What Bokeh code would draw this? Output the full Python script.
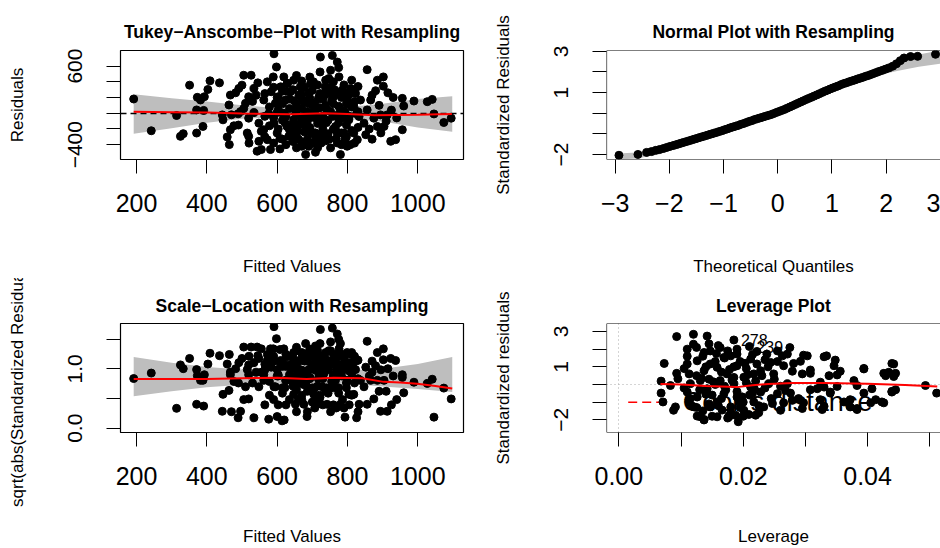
import numpy as np
from bokeh.plotting import figure
from bokeh.layouts import gridplot
from bokeh.models import FixedTicker, NumeralTickFormatter, Span
from bokeh.core.properties import value
from bokeh.embed import file_html
from bokeh.resources import INLINE

FONT = "Liberation Sans"

# ---------------- data: Tukey-Anscombe (fitted values vs residuals) ----------------
ta_fitted = [
    192, 242, 314, 325, 333, 351, 371, 373, 371, 382,
    393, 389, 403, 409, 391, 436, 446, 458, 464, 467,
    477, 444, 463, 467, 482, 491, 500, 505, 526, 496,
    510, 519, 519, 515, 519, 534, 534, 545, 548, 548,
    543, 555, 562, 562, 572, 576, 572, 581, 583, 589,
    591, 598, 595, 591, 600, 608, 610, 614, 619, 628,
    624, 628, 633, 638, 647, 652, 647, 657, 662, 666,
    671, 676, 681, 681, 685, 690, 695, 704, 709, 709,
    714, 719, 722, 723, 728, 733, 737, 742, 747, 752,
    757, 761, 766, 771, 771, 776, 780, 780, 785, 790,
    799, 799, 804, 809, 818, 818, 823, 828, 833, 837,
    847, 852, 856, 856, 866, 875, 880, 885, 885, 894,
    902, 902, 904, 913, 923, 937, 956, 960, 956, 989,
    1027, 1041, 1046, 1074, 1095, 489, 600, 620, 685, 793,
    826, 565, 565, 565, 578, 578, 590, 590, 590, 603,
    603, 603, 615, 615, 615, 625, 625, 625, 635, 635,
    635, 645, 645, 645, 655, 655, 655, 655, 662, 662,
    670, 670, 670, 670, 678, 678, 678, 686, 686, 686,
    693, 693, 693, 700, 700, 700, 707, 707, 707, 715,
    715, 715, 722, 722, 722, 730, 730, 730, 738, 738,
    738, 745, 745, 745, 752, 752, 752, 760, 760, 760,
    768, 768, 768, 775, 775, 775, 783, 783, 783, 790,
    790, 797, 797, 797, 805, 805, 812, 812, 812, 820,
    820, 830, 830, 830, 470, 490, 505, 520, 540, 555,
    530, 862, 870, 890, 910, 925, 940, 870, 895, 915,
    930, 600, 608, 615, 622, 630, 640, 648, 655, 660,
    668, 675, 683, 690, 697, 703, 710, 717, 725, 733,
    740, 748, 755, 763, 770, 778, 786, 793, 800, 808,
    815, 680, 700, 720, 740, 760, 650, 670, 690, 710,
    730,
]
ta_resid = [
    181, -223, -29, -294, -260, 357, -252, 202, 42, 168,
    210, -168, 302, 412, 36, 386, -84, -302, -399, -210,
    -160, -21, 105, 231, 260, 315, 357, 483, 483, 21,
    126, 210, -63, -252, -294, 8, 315, 386, -126, -357,
    -483, -462, 168, -210, 399, -6, -336, -462, 273, 462,
    756, 588, 126, -126, -252, -454, 336, 4, 462, 378,
    168, -168, -294, 273, 420, 42, -84, -231, -336, 336,
    168, -42, -525, -378, -168, 252, 378, 84, -496, -252,
    -42, 210, 525, 714, -126, -336, 336, 42, 441, 546,
    735, 210, -168, 651, -378, 462, -525, 42, 294, -252,
    -420, 168, -84, 315, 84, -252, 252, -336, -42, 168,
    -126, -273, 554, 42, 168, -63, 286, 420, -168, -21,
    462, 344, -168, -21, -357, -336, 189, 92, -210, 155,
    147, 176, -9, -118, -63, -8, 10, -5, -10, 9,
    -8, -40, 250, -300, 80, -160, -60, 330, -380, 40,
    -200, 210, 120, -330, -90, 280, -40, -400, 60, -210,
    180, -130, 300, -360, 110, -20, -290, 480, 230, -150,
    -80, 60, -420, 410, 140, -240, 330, 20, -330, -100,
    190, -180, 460, -50, 290, -380, 120, -250, 30, 360,
    -130, -440, 70, 250, -300, -40, 180, -200, 420, -350,
    100, -90, 250, -260, 20, 330, -440, -200, 120, 400,
    -30, 260, -320, 90, -120, 580, -250, 200, -400, 30,
    360, -150, 120, -300, 240, -40, -220, 80, 420, -380,
    150, 20, -180, 340, -20, -150, 60, -380, 230, -230,
    150, -200, 230, 100, -100, 40, -60, -330, -250, 260,
    200, 200, -320, 280, -120, 380, -260, 160, -440, 60,
    250, -140, -360, 120, -260, 400, -60, 180, -380, 220,
    -120, -330, 160, 300, -240, 260, -60, -330, 260, -400,
    300, -220, 120, -80, 290, -40, -190, 210, -420, -340,
    -260,
]
resid_sigma = 259.0  # residual standard error

# resampling envelope and smoother of the Tukey-Anscombe plot
ta_band_x = [192, 300, 400, 500, 600, 700, 800, 900, 1000, 1098]
ta_band_up = [240, 190, 150, 100, 65, 60, 80, 120, 180, 215]
ta_band_low = [-260, -190, -120, -70, -50, -55, -75, -105, -180, -235]
ta_smooth_x = [192, 300, 404, 500, 641, 735, 800, 877, 1000, 1097]
ta_smooth_y = [20, 14, 8, -3, -13, 0, -10, -25, -18, -9]

# ---------------- data: Normal plot ----------------
qq_theo = [
    -2.93, -2.58, -2.42, -2.33, -2.25, -2.18, -2.11, -2.05, -1.99, -1.93,
    -1.88, -1.83, -1.78, -1.73, -1.68, -1.63, -1.58, -1.53, -1.48, -1.43,
    -1.38, -1.33, -1.28, -1.23, -1.18, -1.13, -1.08, -1.03, -0.98, -0.93,
    -0.88, -0.83, -0.78, -0.73, -0.68, -0.63, -0.58, -0.53, -0.48, -0.43,
    -0.38, -0.33, -0.28, -0.23, -0.18, -0.13, -0.08, -0.03, 0.02, 0.07,
    0.12, 0.17, 0.22, 0.27, 0.32, 0.37, 0.42, 0.47, 0.52, 0.57,
    0.62, 0.67, 0.72, 0.77, 0.82, 0.87, 0.92, 0.97, 1.02, 1.07,
    1.12, 1.17, 1.22, 1.27, 1.32, 1.37, 1.42, 1.47, 1.52, 1.57,
    1.62, 1.67, 1.72, 1.77, 1.82, 1.87, 1.93, 1.99, 2.05, 2.12,
    2.19, 2.26, 2.33, 2.45, 2.58, 2.91,
]
qq_std = [
    -2.04, -2.00, -1.90, -1.86, -1.80, -1.76, -1.71, -1.66, -1.61, -1.57,
    -1.53, -1.49, -1.45, -1.41, -1.37, -1.33, -1.29, -1.25, -1.21, -1.17,
    -1.13, -1.09, -1.05, -1.01, -0.97, -0.93, -0.89, -0.85, -0.80, -0.76,
    -0.71, -0.67, -0.63, -0.59, -0.54, -0.50, -0.45, -0.40, -0.36, -0.31,
    -0.27, -0.23, -0.19, -0.15, -0.11, -0.07, -0.02, 0.03, 0.08, 0.13,
    0.18, 0.24, 0.30, 0.36, 0.42, 0.48, 0.54, 0.60, 0.66, 0.72,
    0.77, 0.83, 0.89, 0.95, 1.01, 1.07, 1.12, 1.18, 1.23, 1.28,
    1.33, 1.39, 1.44, 1.48, 1.53, 1.57, 1.61, 1.66, 1.70, 1.74,
    1.79, 1.83, 1.88, 1.93, 1.98, 2.03, 2.08, 2.14, 2.20, 2.28,
    2.40, 2.55, 2.68, 2.75, 2.76, 2.86,
]
qq_band_x = [-2.95, -2.6, -2.2, -1.8, -1.4, -1.0, -0.6, -0.2, 0.2, 0.6, 1.0, 1.4, 1.8, 2.2, 2.6, 3.0]
qq_band_up = [-1.95, -1.90, -1.68, -1.42, -1.12, -0.80, -0.45, -0.08, 0.30, 0.76, 1.22, 1.62, 2.00, 2.45, 2.85, 3.05]
qq_band_low = [-2.25, -2.20, -2.00, -1.65, -1.28, -0.96, -0.62, -0.24, 0.16, 0.62, 1.08, 1.45, 1.80, 2.05, 2.25, 2.40]

# ---------------- data: Scale-Location ----------------
sl_band_x = [192, 300, 400, 500, 600, 700, 800, 900, 1000, 1098]
sl_band_up = [1.20, 1.10, 1.03, 0.99, 0.97, 0.96, 0.97, 1.00, 1.08, 1.20]
sl_band_low = [0.54, 0.62, 0.69, 0.73, 0.75, 0.76, 0.75, 0.70, 0.66, 0.61]
sl_smooth_x = [192, 300, 400, 500, 600, 684, 761, 842, 903, 950, 998, 1050, 1098]
sl_smooth_y = [0.83, 0.83, 0.83, 0.84, 0.85, 0.83, 0.85, 0.84, 0.78, 0.77, 0.75, 0.71, 0.67]

# ---------------- data: Leverage plot ----------------
lev_h = [
    .0068, .0068, .0071, .0073, .0083, .0088, .0093, .0093, .0095, .0091,
    .0110, .0120, .0120, .0110, .0113, .0115, .0110, .0113, .0121, .0137,
    .0131, .0142, .0137, .0147, .0163, .0126, .0137, .0147, .0131, .0142,
    .0126, .0147, .0158, .0177, .0192, .0185, .0169, .0180, .0190, .0158,
    .0174, .0190, .0163, .0185, .0201, .0169, .0190, .0158, .0180, .0201,
    .0210, .0222, .0212, .0222, .0217, .0228, .0212, .0228, .0217, .0220,
    .0233, .0238, .0244, .0249, .0241, .0255, .0247, .0260, .0255, .0263,
    .0271, .0275, .0265, .0279, .0271, .0268, .0279, .0292, .0303, .0295,
    .0308, .0289, .0295, .0319, .0324, .0330, .0327, .0334, .0338, .0340,
    .0346, .0348, .0356, .0362, .0372, .0378, .0383, .0383, .0394, .0407,
    .0413, .0423, .0429, .0434, .0442, .0445, .0439, .0445, .0493, .0511,
    .0125, .0130, .0135, .0140, .0145, .0150, .0155, .0160, .0165, .0170,
    .0175, .0180, .0185, .0190, .0195, .0200, .0205, .0210, .0215, .0220,
    .0225, .0230, .0235, .0240, .0245, .0250, .0255, .0260, .0160, .0145,
    .0135, .0150, .0175, .0200, .0125, .0115, .0105, .0105, .0155, .0165,
    .0185, .0195, .0205, .0215, .0235, .0125, .0110, .0145, .0170, .0190,
    .0265, .0276, .0297, .0308, .0324, .0330, .0340, .0351, .0372, .0383,
    .0394, .0405, .0426, .0439, .0439, .0442, .0426, .0394, .0351, .0330,
    .0308, .0297, .0281, .0113, .0118, .0126, .0137, .0177, .0209, .0225,
    .0140, .0152, .0166, .0178, .0193, .0207, .0133, .0157, .0172, .0188,
    .0203, .0218, .0160, .0182, .0198,
]
lev_std = [
    0.19, -0.49, -0.99, 1.19, -0.06, -1.46, 2.71, 0.63, 0.32, -1.27,
    2.00, 2.84, 2.28, 1.16, 0.60, 0.04, -0.43, -0.99, -1.27, -2.01,
    -1.83, 2.74, 1.81, 1.90, 2.09, 1.34, 0.78, 1.16, 0.22, -0.24,
    -0.71, -1.27, -1.83, -1.83, -2.11, 2.52, 1.53, 1.62, 1.72, 0.97,
    0.60, 1.06, 0.22, 0.04, 0.41, -0.52, -0.71, -0.99, -1.27, -1.46,
    2.15, 1.87, 1.44, 1.16, 0.60, 0.78, -0.15, -0.43, -0.99, -1.74,
    -1.27, 1.72, 1.25, 0.60, 0.04, -0.52, -1.08, -1.46, 1.90, 1.62,
    1.72, 2.09, 1.06, 0.75, 0.04, -0.34, -0.90, 1.31, 1.62, 0.60,
    0.63, -0.80, -1.36, -0.24, 0.13, -0.15, -1.42, 1.62, 0.50, -0.43,
    1.06, 1.38, 0.75, -0.99, -1.27, 0.22, -0.06, -1.36, 0.88, -0.24,
    -0.86, -0.99, 0.50, 0.69, 1.16, 0.63, -0.43, -0.30, -0.06, -0.49,
    0.50, -0.30, -1.50, 1.00, 0.30, -0.60, 1.30, -1.20, 0.70, -0.10,
    1.90, -1.60, 0.40, -0.40, 1.30, -1.00, 0.90, -0.60, 1.70, 0.20,
    -1.20, 0.50, -0.20, 1.00, -0.80, 0.30, 1.30, -0.10, 2.20, 2.30,
    1.60, -1.80, -1.90, -1.80, -1.30, -0.80, 0.90, -0.20, 0.00, -0.80,
    1.00, -1.30, 0.10, -0.50, 1.40, 2.10, 1.60, -1.10, 1.50, 2.00,
    -1.04, -0.49, -1.04, -0.30, -0.86, -1.23, -0.49, -0.11, -0.86, -1.42,
    -0.49, -1.04, -1.04, -0.39, 1.19, 0.45, 0.63, 0.91, 0.54, 1.57,
    0.82, 1.66, 1.19, -0.86, -1.23, -1.79, -1.98, -1.79, -1.70, -1.60,
    -0.55, 0.15, -1.45, 0.85, -0.85, 0.55, 0.35, 1.75, -0.30, -1.75,
    1.20, -0.25, 0.10, 0.25, -0.70,
]
lev_smooth_h = [0.0067, 0.010, 0.014, 0.019, 0.0215, 0.024, 0.028, 0.033, 0.040, 0.046, 0.0512]
lev_smooth_std = [0.02, 0.00, -0.08, -0.15, -0.05, 0.03, 0.08, 0.08, 0.04, -0.03, -0.11]
lev_lab_h = [0.0185, 0.0210]
lev_lab_std = [2.52, 2.15]
lev_lab_text = ["278", "239"]

# ---------------- tick positions ----------------
fit_ticks = [200, 400, 600, 800, 1000]
ta_yticks, ta_yminor = [-400, 600], [-200, 0, 200, 400]
qq_xticks = [-3, -2, -1, 0, 1, 2, 3]
qq_yticks, qq_yminor = [-2, 1, 3], [-1, 0, 2]
sl_yticks, sl_yminor = [0.0, 1.0], [0.5, 1.5]
lev_xticks, lev_xminor = [0.0, 0.02, 0.04], [0.01, 0.03, 0.05]
lev_yticks, lev_yminor = [-2, 1, 3], [-1, 0, 2]

GREY = "#BEBEBE"


def style_axis(ax, size, tick_standoff, label_standoff):
    ax.axis_line_color = None
    ax.major_tick_out = 14
    ax.major_tick_in = 0
    ax.minor_tick_out = 14
    ax.minor_tick_in = 0
    ax.major_tick_line_color = "black"
    ax.minor_tick_line_color = "black"
    ax.major_label_text_font = FONT
    ax.major_label_text_font_size = size
    ax.major_label_text_color = "black"
    ax.major_label_standoff = tick_standoff
    ax.axis_label_text_font = FONT
    ax.axis_label_text_font_size = "17px"
    ax.axis_label_text_font_style = "normal"
    ax.axis_label_text_color = "black"
    ax.axis_label_standoff = label_standoff


def panel(xr, yr, title, xlab, ylab, height, top, bottom, title_standoff, xlab_standoff,
          xtick, ytick, left, right):
    p = figure(width=470, height=height, x_range=xr, y_range=yr,
               output_backend="svg", toolbar_location=None,
               min_border_left=left, min_border_right=right,
               min_border_top=top, min_border_bottom=bottom)
    p.title.text = title
    p.title.align = "center"
    p.title.text_font = FONT
    p.title.text_font_size = "17.5px"
    p.title.text_font_style = "bold"
    p.title.text_color = "black"
    p.title.standoff = title_standoff
    p.xgrid.visible = False
    p.ygrid.visible = False
    p.background_fill_color = "white"
    p.border_fill_color = "white"
    p.xaxis.ticker = xtick
    p.yaxis.ticker = ytick
    p.xaxis.axis_label = xlab
    p.yaxis.axis_label = ylab
    style_axis(p.xaxis[0], "25px", 20, xlab_standoff)
    style_axis(p.yaxis[0], "21px", 24, 39)
    p.yaxis.major_label_orientation = "vertical"
    if right == 0:
        p.outline_line_color = None
        for loc, dim in ((yr[0], "width"), (yr[1], "width"), (xr[0], "height")):
            p.add_layout(Span(location=loc, dimension=dim, line_color="black", line_width=1.2))
    else:
        p.outline_line_color = "black"
        p.outline_line_width = 1.2
    return p


TOP = dict(height=278, top=50, bottom=118, title_standoff=17, xlab_standoff=42)
BOT = dict(height=270, top=45, bottom=115, title_standoff=16, xlab_standoff=39)
fit_range = (154.5, 1130)

# ---- Tukey-Anscombe ----
p1 = panel(fit_range, (-588.4, 797.6), "Tukey\u2212Anscombe\u2212Plot with Resampling",
           "Fitted Values", "Residuals", xtick=FixedTicker(ticks=fit_ticks),
           ytick=FixedTicker(ticks=ta_yticks, minor_ticks=ta_yminor), left=120, right=7, **TOP)
p1.yaxis.major_label_overrides = {-400: "\u2212400"}
p1.varea(x=ta_band_x, y1=ta_band_low, y2=ta_band_up, fill_color=GREY)
p1.hspan(y=[0], line_color="black", line_dash="6 4", line_width=1.3)
p1.scatter(ta_fitted, ta_resid, size=8, color="black")
p1.line(ta_smooth_x, ta_smooth_y, line_color="red", line_width=2)

# ---- Normal plot ----
p2 = panel((-3.16, 3.002), (-2.245, 3.043), "Normal Plot with Resampling",
           "Theoretical Quantiles", "Standardized Residuals", xtick=FixedTicker(ticks=qq_xticks),
           ytick=FixedTicker(ticks=qq_yticks, minor_ticks=qq_yminor), left=136, right=0, **TOP)
p2.xaxis.major_label_overrides = {-3: "\u22123", -2: "\u22122", -1: "\u22121"}
p2.yaxis.major_label_overrides = {-2: "\u22122"}
p2.varea(x=qq_band_x, y1=qq_band_low, y2=qq_band_up, fill_color=GREY)
p2.scatter(qq_theo, qq_std, size=8, color="black")

# ---- Scale-Location ----
sl_y = np.sqrt(np.abs(np.array(ta_resid, dtype=float)) / resid_sigma)
p3 = panel(fit_range, (-0.072, 1.762), "Scale\u2212Location with Resampling",
           "Fitted Values", "sqrt(abs(Standardized Residuals))", xtick=FixedTicker(ticks=fit_ticks),
           ytick=FixedTicker(ticks=sl_yticks, minor_ticks=sl_yminor), left=120, right=7, **BOT)
p3.yaxis.formatter = NumeralTickFormatter(format="0.0")
p3.varea(x=sl_band_x, y1=sl_band_low, y2=sl_band_up, fill_color=GREY)
p3.scatter(ta_fitted, sl_y, size=8, color="black")
p3.line(sl_smooth_x, sl_smooth_y, line_color="red", line_width=2)

# ---- Leverage ----
lx0, lx1, ly0, ly1 = -0.00198, 0.05172, -2.72, 3.453
p4 = panel((lx0, lx1), (ly0, ly1), "Leverage Plot",
           "Leverage", "Standardized residuals",
           xtick=FixedTicker(ticks=lev_xticks, minor_ticks=lev_xminor),
           ytick=FixedTicker(ticks=lev_yticks, minor_ticks=lev_yminor), left=136, right=0, **BOT)
p4.xaxis.formatter = NumeralTickFormatter(format="0.00")
p4.yaxis.major_label_overrides = {-2: "\u22122"}
p4.hspan(y=[0], line_color="#AAAAAA", line_dash="1 3", line_width=1)
p4.vspan(x=[0], line_color="#AAAAAA", line_dash="1 3", line_width=1)
# legend "Cook's distance" (bottom-left of the plot region)
leg_y = ly0 + 0.277 * (ly1 - ly0)
p4.line([lx0 + 0.065 * (lx1 - lx0), lx0 + 0.177 * (lx1 - lx0)], [leg_y, leg_y],
        line_color="red", line_dash="9 5", line_width=1.5)
p4.text(x=[lx0 + 0.228 * (lx1 - lx0)], y=[leg_y], text=["Cook's distance"],
        text_font=value(FONT), text_font_size="27px", text_baseline="middle",
        text_align="left", text_color="black")
p4.scatter(lev_h, lev_std, size=8, color="black")
p4.line(lev_smooth_h, lev_smooth_std, line_color="red", line_width=2)
p4.text(x=lev_lab_h, y=lev_lab_std, text=lev_lab_text, x_offset=7,
        text_font=value(FONT), text_font_size="16px", text_baseline="middle",
        text_align="left", text_color="black")

grid = gridplot([[p1, p2], [p3, p4]], toolbar_location=None)
open("out.html", "w", encoding="utf-8").write(file_html(grid, INLINE))
